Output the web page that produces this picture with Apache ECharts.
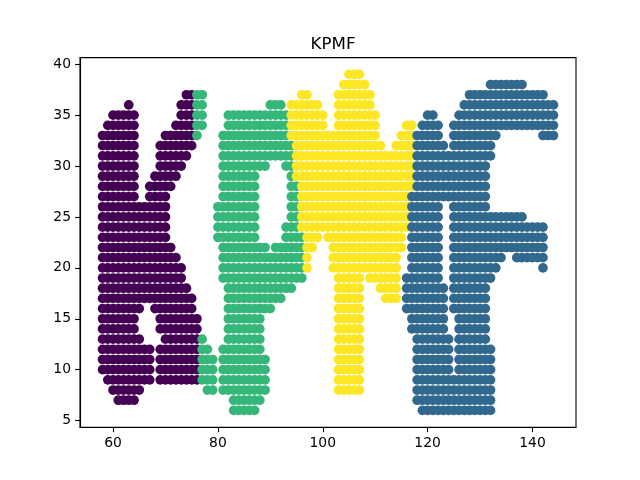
<!DOCTYPE html>
<html>
<head>
<meta charset="utf-8">
<script src="https://cdn.jsdelivr.net/npm/echarts@6/dist/echarts.min.js"></script>
<style>
  html, body { margin: 0; padding: 0; background: #fff; }
  #chart { width: 640px; height: 480px; }
</style>
</head>
<body>
<div id="chart"></div>
<script>
// each entry is one run of dots: [y, first x, last x]
const kRows = [
  [37, 74, 75],
  [36, 63, 63], [36, 73, 75],
  [35, 60, 64], [35, 73, 75],
  [34, 59, 64], [34, 72, 75],
  [33, 58, 64], [33, 70, 75],
  [32, 58, 64], [32, 69, 75],
  [31, 58, 64], [31, 69, 74],
  [30, 58, 64], [30, 69, 73],
  [29, 58, 64], [29, 68, 72],
  [28, 58, 64], [28, 67, 71],
  [27, 58, 64], [27, 67, 70],
  [26, 58, 70], [25, 58, 70], [24, 58, 70], [23, 58, 70],
  [22, 58, 71], [21, 58, 72], [20, 58, 73], [19, 58, 73],
  [18, 58, 74], [17, 58, 75],
  [16, 58, 65], [16, 68, 75],
  [15, 58, 64], [15, 69, 76],
  [14, 58, 64], [14, 69, 76],
  [13, 58, 65], [13, 70, 76],
  [12, 58, 67], [12, 69, 76],
  [11, 58, 67], [11, 69, 76],
  [10, 58, 67], [10, 69, 76],
  [9, 59, 67], [9, 69, 76],
  [8, 60, 65],
  [7, 61, 64]
];

const pRows = [
  [37, 76, 77],
  [36, 76, 77], [36, 90, 92],
  [35, 76, 77], [35, 82, 93],
  [34, 76, 77], [34, 82, 93],
  [33, 76, 76], [33, 81, 93],
  [32, 81, 94], [31, 81, 94],
  [30, 81, 89], [30, 93, 94],
  [29, 81, 87], [29, 94, 94],
  [28, 81, 87], [28, 94, 95],
  [27, 81, 87], [27, 94, 95],
  [26, 80, 87], [26, 94, 95],
  [25, 80, 87], [25, 94, 95],
  [24, 80, 87], [24, 93, 95],
  [23, 80, 87], [23, 93, 96],
  [22, 81, 89], [22, 91, 96],
  [21, 81, 96], [20, 81, 96], [19, 81, 96],
  [18, 82, 94], [17, 82, 92], [16, 82, 90],
  [15, 82, 88], [14, 82, 88],
  [13, 77, 77], [13, 82, 88],
  [12, 77, 78], [12, 81, 88],
  [11, 77, 79], [11, 81, 89],
  [10, 77, 79], [10, 81, 89],
  [9, 77, 79], [9, 81, 89],
  [8, 78, 79], [8, 81, 89],
  [7, 83, 88],
  [6, 83, 87]
];

const mRows = [
  [39, 105, 107],
  [38, 104, 108],
  [37, 96, 97], [37, 103, 109],
  [36, 94, 99], [36, 103, 109],
  [35, 94, 100], [35, 103, 110],
  [34, 94, 100], [34, 103, 110], [34, 116, 117],
  [33, 94, 110], [33, 115, 117],
  [32, 95, 111], [32, 114, 117],
  [31, 95, 117], [30, 95, 117], [29, 95, 117], [28, 96, 117],
  [27, 96, 116], [26, 96, 116], [25, 96, 116], [24, 96, 116],
  [23, 97, 99], [23, 101, 115],
  [22, 97, 98], [22, 102, 115],
  [21, 97, 97], [21, 102, 114],
  [20, 97, 97], [20, 102, 114],
  [19, 103, 107], [19, 109, 114],
  [18, 103, 107], [18, 111, 114],
  [17, 103, 107], [17, 112, 114],
  [16, 103, 107], [15, 103, 107], [14, 103, 107], [13, 103, 107],
  [12, 103, 107], [11, 103, 107], [10, 103, 107], [9, 103, 107],
  [8, 103, 107]
];

const fRows = [
  [38, 132, 138],
  [37, 128, 142],
  [36, 127, 144],
  [35, 120, 121], [35, 126, 144],
  [34, 119, 122], [34, 125, 144],
  [33, 118, 122], [33, 125, 133], [33, 142, 144],
  [32, 118, 123], [32, 125, 132],
  [31, 118, 132],
  [30, 118, 131], [29, 118, 131], [28, 118, 131], [27, 117, 131],
  [26, 117, 122], [26, 125, 131],
  [25, 117, 122], [25, 125, 138],
  [24, 117, 122], [24, 125, 142],
  [23, 117, 122], [23, 125, 142],
  [22, 117, 122], [22, 125, 142],
  [21, 117, 122], [21, 125, 134], [21, 137, 142],
  [20, 117, 122], [20, 125, 133], [20, 142, 142],
  [19, 116, 122], [19, 125, 132],
  [18, 116, 123], [18, 125, 131],
  [17, 116, 123], [17, 125, 131],
  [16, 116, 123], [16, 125, 131],
  [15, 117, 123], [15, 126, 131],
  [14, 117, 123], [14, 126, 131],
  [13, 118, 124], [13, 126, 131],
  [12, 118, 124], [12, 126, 132],
  [11, 118, 124], [11, 126, 132],
  [10, 118, 124], [10, 126, 132],
  [9, 118, 132], [8, 118, 132], [7, 118, 132],
  [6, 119, 132]
];

const xTicks = [60, 80, 100, 120, 140];
const yTicks = [5, 10, 15, 20, 25, 30, 35, 40];

// one dot per integer x inside each run
function toPoints(rows) {
  const pts = [];
  rows.forEach(r => {
    for (let x = r[1]; x <= r[2]; x++) pts.push([x, r[0]]);
  });
  return pts;
}

const chart = echarts.init(document.getElementById('chart'));

const font = 'DejaVu Sans';
const dot = 9.7;

function dots(rows, color) {
  return {
    type: 'scatter',
    data: toPoints(rows),
    symbolSize: dot,
    itemStyle: { color: color, opacity: 1 },
    emphasis: { disabled: true },
    large: false
  };
}

const option = {
  animation: false,
  title: {
    text: 'KPMF',
    left: 328,
    top: 31,
    textAlign: 'center',
    textStyle: { fontFamily: font, fontSize: 16.7, fontWeight: 'normal', color: '#000' }
  },
  grid: {
    left: 80, right: 64, top: 57.6, bottom: 52.8,
    show: true, borderColor: '#000', borderWidth: 1.1, backgroundColor: 'transparent'
  },
  xAxis: {
    type: 'value',
    min: 53.7,
    max: 148.3,
    splitLine: { show: false },
    axisLine: { lineStyle: { color: '#000', width: 1.1 } },
    axisTick: { show: true, length: 4.9, inside: false, customValues: xTicks, lineStyle: { color: '#000', width: 1.1 } },
    axisLabel: { customValues: xTicks, margin: 9, fontFamily: font, fontSize: 13.9, color: '#000' }
  },
  yAxis: {
    type: 'value',
    min: 4.35,
    max: 40.65,
    splitLine: { show: false },
    axisLine: { lineStyle: { color: '#000', width: 1.1 } },
    axisTick: { show: true, length: 4.9, inside: false, customValues: yTicks, lineStyle: { color: '#000', width: 1.1 } },
    axisLabel: { customValues: yTicks, margin: 9, fontFamily: font, fontSize: 13.9, color: '#000' }
  },
  series: [
    dots(kRows, '#440154'),
    dots(pRows, '#35b779'),
    dots(mRows, '#fde725'),
    dots(fRows, '#31688e')
  ]
};

chart.setOption(option);
</script>
</body>
</html>
